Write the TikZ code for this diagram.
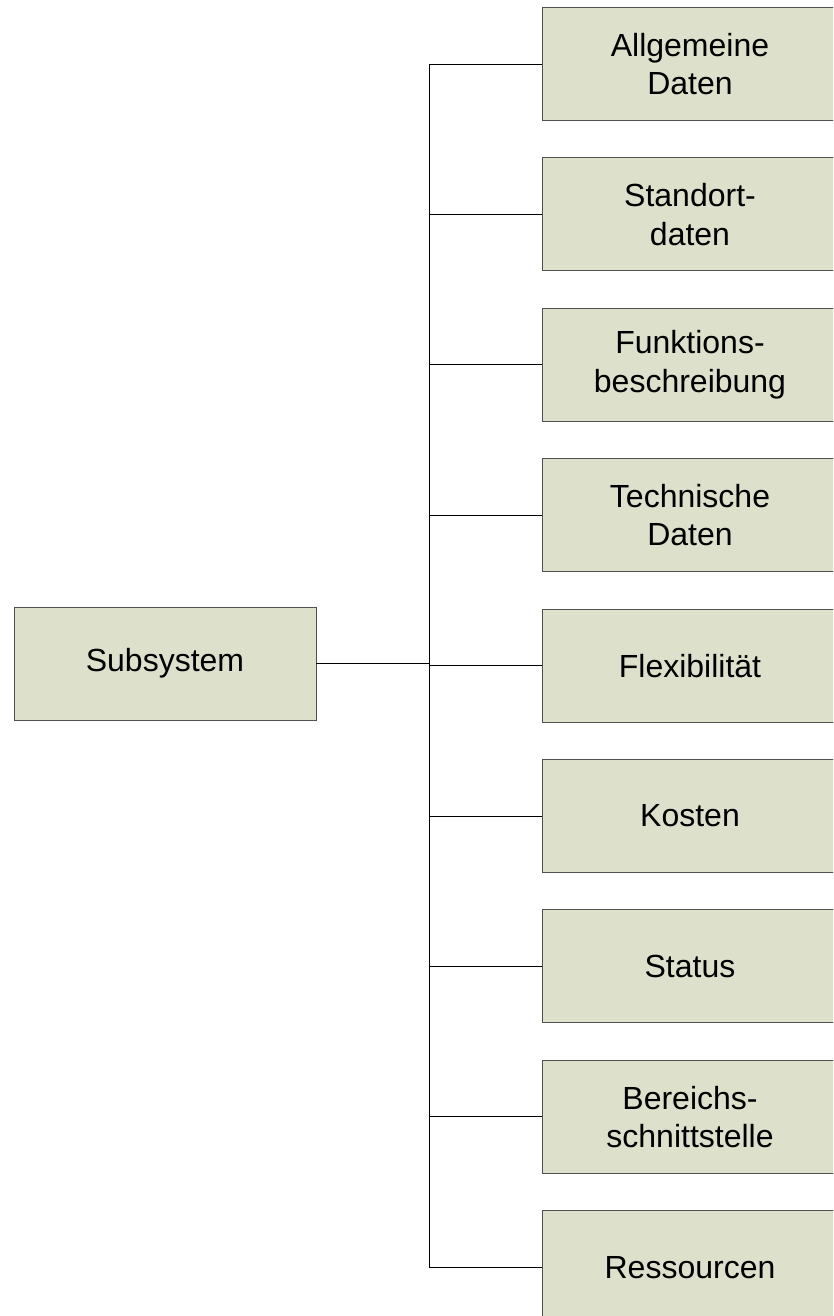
\documentclass[tikz,border=0pt]{standalone}
\usepackage{fontspec}
\setmainfont{Liberation Sans}
\definecolor{boxfill}{HTML}{DDE0CB}
\definecolor{boxline}{HTML}{505050}
\begin{document}
\begin{tikzpicture}[x=1pt,y=-1pt,
  itembox/.style={draw=boxline, line width=0.9pt, fill=boxfill,
    minimum width=296pt, minimum height=113pt, inner sep=0pt,
    align=center, font=\fontsize{32}{38.5}\selectfont},
  rootbox/.style={itembox, minimum width=302pt},
  link/.style={draw=black, line width=0.9pt}]
\useasboundingbox (0,0) rectangle (833,1316);
\clip (0,0) rectangle (833,1316);

% root node
\node[rootbox] (sub) at (165,663.5) {Subsystem};

% child nodes, one per row
\node[itembox] (c1) at (690,64) {Allgemeine\\Daten};
\node[itembox] (c2) at (690,214.4) {Standort-\\daten};
\node[itembox] (c3) at (690,364.8) {Funktions-\\beschreibung};
\node[itembox] (c4) at (690,515.2) {Technische\\Daten};
\node[itembox] (c5) at (690,665.6) {Flexibilität};
\node[itembox] (c6) at (690,816) {Kosten};
\node[itembox] (c7) at (690,966.4) {Status};
\node[itembox] (c8) at (690,1116.8) {Bereichs-\\schnittstelle};
\node[itembox] (c9) at (690,1267.2) {Ressourcen};

% junction on the vertical trunk
\coordinate (j) at (429,663.5);

\draw[link, line width=1.5pt] (sub.east) -- (j);
\foreach \k in {1,...,9}
  \draw[link] (j) |- (c\k.west);
\end{tikzpicture}
\end{document}
